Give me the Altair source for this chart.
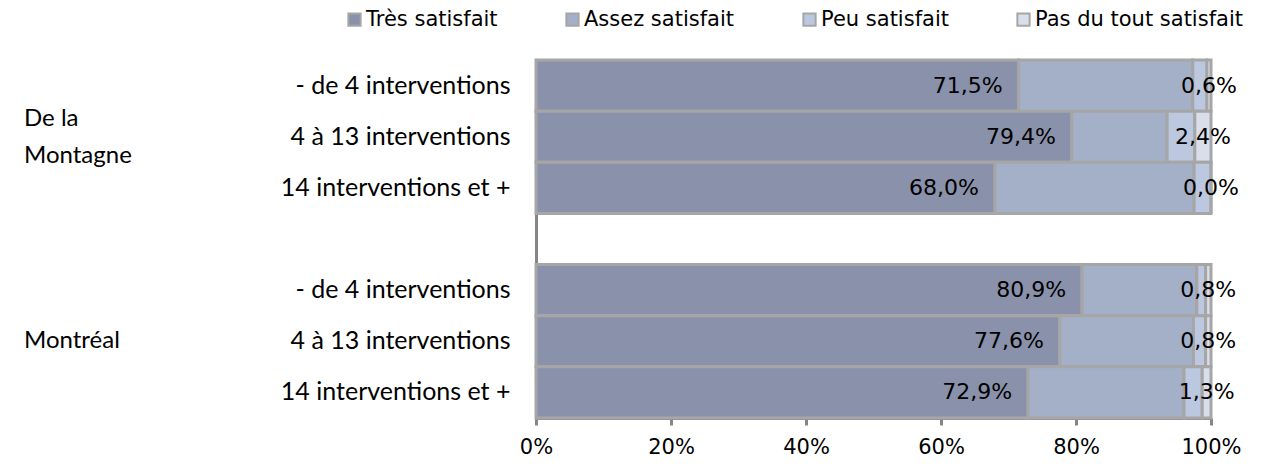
import altair as alt
import pandas as pd

group_ids = ["DLM", "MTL"]
group_labels = ["De la\nMontagne", "Montréal"]
categories = ["- de 4 interventions", "4 à 13 interventions", "14 interventions et +"]
series = ["Très satisfait", "Assez satisfait", "Peu satisfait", "Pas du tout satisfait"]
colors = ["#8A91AB", "#A3B0C8", "#BCC7E0", "#D9DEEA"]

# rows: DLM (3 categories) then MTL (3 categories)
tres = [71.5, 79.4, 68.0, 80.9, 77.6, 72.9]
assez = [25.8, 14.1, 29.5, 17.0, 19.8, 23.1]
peu = [2.1, 4.1, 2.5, 1.3, 1.8, 2.7]
pas = [0.6, 2.4, 0.0, 0.8, 0.8, 1.3]

keys = []
for g in group_ids:
    for c in categories:
        keys.append(f"{g}|{c}")
domain_keys = keys[:3] + ["gap|"] + keys[3:]

rows = []
for i, k in enumerate(keys):
    for s_idx, (s, vals) in enumerate(zip(series, [tres, assez, peu, pas])):
        rows.append({"key": k, "series": s, "idx": s_idx, "value": vals[i]})
df = pd.DataFrame(rows)

glab = pd.DataFrame({"key": [keys[1], keys[4]], "label": group_labels,
                     "nlines": [2, 1]})

AX = "#868686"
STROKE = "#A6A6A6"

base = alt.Chart(df).transform_stack(
    stack="value", groupby=["key"], as_=["x0", "x1"],
    sort=[alt.SortField("idx", order="ascending")]
).transform_calculate(
    lbl="replace(format(datum.value, '.1f'), '.', ',') + '%'",
    mid="(datum.x0 + datum.x1) / 2"
)

yenc = alt.Y(
    "key:N",
    scale=alt.Scale(domain=domain_keys, paddingInner=0, paddingOuter=0),
    axis=alt.Axis(
        title=None, ticks=False, domainColor=AX, domainWidth=3,
        labelExpr="slice(datum.label, indexof(datum.label, '|') + 1)",
        labelFont="Lato", labelFontSize=25, labelColor="#000000",
        labelPadding=26, labelLimit=400, grid=False,
    ),
)

bars = base.mark_bar(stroke=STROKE, strokeWidth=3).encode(
    y=yenc,
    x=alt.X(
        "x0:Q",
        scale=alt.Scale(domain=[0, 100], nice=False),
        axis=alt.Axis(
            title=None, values=[0, 20, 40, 60, 80, 100],
            labelExpr="datum.value + '%'", grid=False, labelFlush=False,
            domainColor=AX, domainWidth=3, tickColor=AX, tickWidth=3,
            tickSize=7, labelPadding=11, labelFont="DejaVu Sans",
            labelFontSize=21, labelColor="#000000",
        ),
    ),
    x2="x1:Q",
    color=alt.Color(
        "series:N",
        scale=alt.Scale(domain=series, range=colors),
        legend=alt.Legend(
            title=None, orient="none", direction="horizontal",
            legendX=-192, legendY=-51, symbolType="square", symbolSize=150,
            symbolStrokeColor=STROKE, symbolStrokeWidth=2,
            labelFont="DejaVu Sans", labelFontSize=21, labelColor="#000000",
            labelLimit=400, labelOffset=1, columnPadding=64, padding=0,
        ),
    ),
)

txt_tres = base.transform_filter(alt.datum.series == series[0]).mark_text(
    align="right", baseline="middle", dx=-16, font="DejaVu Sans", fontSize=22, color="#000000"
).encode(x="x1:Q", y=alt.Y("key:N"), text="lbl:N")

txt_pas = base.transform_filter(alt.datum.series == series[3]).mark_text(
    align="center", baseline="middle", font="DejaVu Sans", fontSize=22, color="#000000"
).encode(x="mid:Q", y=alt.Y("key:N"), text="lbl:N")

groups = alt.Chart(glab).transform_filter("datum.nlines == 2").mark_text(
    align="left", baseline="middle", lineBreak="\n", lineHeight=37, dy=-18,
    font="Lato", fontSize=24, color="#000000"
).encode(x=alt.value(-512), y=alt.Y("key:N"), text="label:N")

groups1 = alt.Chart(glab).transform_filter("datum.nlines == 1").mark_text(
    align="left", baseline="middle",
    font="Lato", fontSize=24, color="#000000"
).encode(x=alt.value(-512), y=alt.Y("key:N"), text="label:N")

chart = alt.layer(bars, txt_tres, txt_pas, groups, groups1).properties(
    width=675, height=358,
    autosize=alt.AutoSizeParams(type="none"),
    padding={"left": 528, "top": 52, "right": 49, "bottom": 43},
).configure_view(stroke=None)

chart.save("out.html", embed_options={"renderer": "svg", "actions": False})
